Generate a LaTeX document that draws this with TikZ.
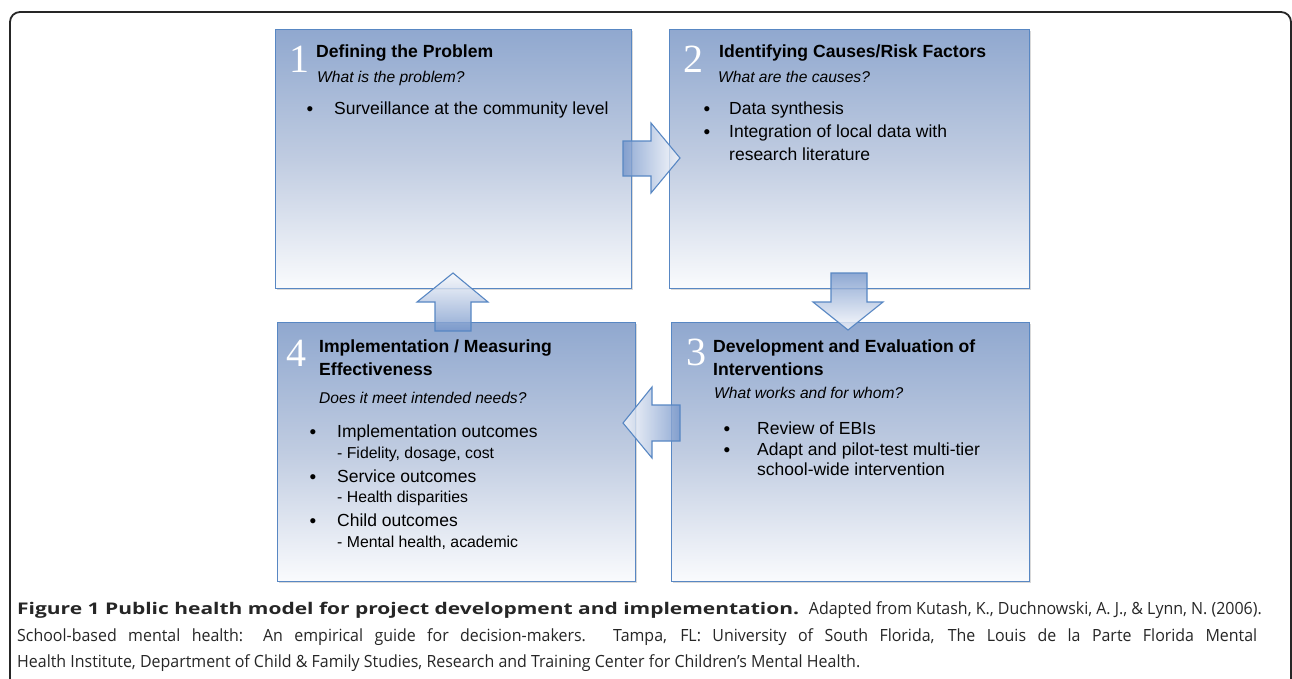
\documentclass[tikz,border=0pt]{standalone}
\usepackage{fontspec}
\setmainfont{Liberation Sans}
\newfontfamily\numfont{Liberation Serif}
\newfontfamily\capfont[FakeStretch=0.95]{Open Sans}
\usetikzlibrary{shadows}
\definecolor{bord}{RGB}{88,135,195}
\definecolor{btop}{RGB}{144,168,207}
\definecolor{bmid}{RGB}{192,204,225}
\definecolor{bbot}{RGB}{250,251,253}
\definecolor{arrblue}{RGB}{118,150,202}
\definecolor{arrwhite}{RGB}{248,249,252}
\tikzset{
  stagebox/.style={draw=bord, line width=1.2pt, top color=btop, bottom color=bbot, middle color=bmid,
    anchor=north west, inner sep=0, minimum height=259pt,
    drop shadow={shadow xshift=1.5pt, shadow yshift=-1.5pt, opacity=0.25, fill=black!60}},
  blockarrow/.style={draw=bord, line width=1.1pt, fill opacity=0.8, line join=miter},
  numtxt/.style={font=\numfont\fontsize{40}{40}\selectfont, text=white, anchor=base west, inner sep=0},
  ttltxt/.style={font=\bfseries\fontsize{17.6}{21}\selectfont, anchor=base west, inner sep=0},
  subtxt/.style={font=\itshape\fontsize{15.6}{18}\selectfont, anchor=base west, inner sep=0},
  bodytxt/.style={font=\fontsize{17.5}{21}\selectfont, anchor=base west, inner sep=0},
  smltxt/.style={font=\fontsize{15.8}{19}\selectfont, anchor=base west, inner sep=0},
  bultxt/.style={font=\fontsize{19}{19}\selectfont, anchor=base, inner sep=0},
  captxt/.style={font=\capfont\fontsize{16.8}{20}\selectfont, anchor=base west, inner sep=0, text=black!85}
}
\begin{document}
\begin{tikzpicture}[x=1pt,y=-1pt]
\useasboundingbox (0,0) rectangle (1292,678);
% outer frame
\draw[line width=1.8pt, black!85, rounded corners=10pt] (10,700) -- (10,12) -- (1291,12) -- (1291,700);

% boxes
\node[stagebox, minimum width=356pt] (b1) at (275,29) {};
\node[stagebox, minimum width=360pt] (b2) at (669,29) {};
\node[stagebox, minimum width=358pt] (b4) at (277,322) {};
\node[stagebox, minimum width=358pt] (b3) at (671,322) {};

% block arrows
\path[blockarrow, left color=arrblue, right color=arrwhite]
  (623,141) -- (651,141) -- (651,123) -- (680,158) coordinate (a12) -- (651,193) -- (651,176) -- (623,176) -- cycle;
\path[blockarrow, top color=arrblue, bottom color=arrwhite]
  (831,273) -- (867,273) -- (867,302) -- (883,302) -- (848,330) coordinate (a23) -- (813,302) -- (831,302) -- cycle;
\path[blockarrow, right color=arrblue, left color=arrwhite]
  (680,405) -- (652,405) -- (652,387) -- (623,423) coordinate (a34) -- (652,458) -- (652,441) -- (680,441) -- cycle;
\path[blockarrow, bottom color=arrblue, top color=arrwhite]
  (435,331) -- (471,331) -- (471,302) -- (488,302) -- (453,273) coordinate (a41) -- (417,302) -- (435,302) -- cycle;

% box 1
\node[numtxt] (n1) at (289,72) {1};
\node[ttltxt] (t1) at (316,57) {Defining the Problem};
\node[subtxt] (s1) at (317,82) {What is the problem?};
\node[bultxt] (d11) at (310,115) {•};
\node[bodytxt] (l11) at (334,114) {Surveillance at the community level};

% box 2
\node[numtxt] (n2) at (683,72) {2};
\node[ttltxt] (t2) at (719,57) {Identifying Causes/Risk Factors};
\node[subtxt] (s2) at (718,82) {What are the causes?};
\node[bultxt] (d21) at (707,115) {•};
\node[bodytxt] (l21) at (729,114) {Data synthesis};
\node[bultxt] (d22) at (707,138) {•};
\node[bodytxt] (l22) at (729,137) {Integration of local data with};
\node[bodytxt] (l23) at (729,160) {research literature};

% box 3
\node[numtxt] (n3) at (686,365) {3};
\node[ttltxt] (t3a) at (713,352) {Development and Evaluation of};
\node[ttltxt] (t3b) at (713,375) {Interventions};
\node[subtxt] (s3) at (714,398) {What works and for whom?};
\node[bultxt] (d31) at (727,435) {•};
\node[bodytxt] (l31) at (757,434) {Review of EBIs};
\node[bultxt] (d32) at (727,456) {•};
\node[bodytxt] (l32) at (757,455) {Adapt and pilot-test multi-tier};
\node[bodytxt] (l33) at (757,475) {school-wide intervention};

% box 4
\node[numtxt] (n4) at (286,366) {4};
\node[ttltxt] (t4a) at (319,352) {Implementation / Measuring};
\node[ttltxt] (t4b) at (319,375) {Effectiveness};
\node[subtxt] (s4) at (319,403) {Does it meet intended needs?};
\node[bultxt] (d41) at (313,438) {•};
\node[bodytxt] (l41) at (337,437) {Implementation outcomes};
\node[smltxt] (m41) at (337,458) {- Fidelity, dosage, cost};
\node[bultxt] (d42) at (313,483) {•};
\node[bodytxt] (l42) at (337,482) {Service outcomes};
\node[smltxt] (m42) at (337,502) {- Health disparities};
\node[bultxt] (d43) at (313,527) {•};
\node[bodytxt] (l43) at (337,526) {Child outcomes};
\node[smltxt] (m43) at (337,547) {- Mental health, academic};

% caption
\node[captxt] (c1a) at (17,614) {\resizebox{782pt}{12.3pt}{\textbf{Figure 1 Public health model for project development and implementation.}}};
\node[captxt, anchor=base east] (c1b) at (1262,614) {Adapted from Kutash, K., Duchnowski, A. J., \& Lynn, N. (2006).};
\node[captxt] (c2) at (17,641) {\makebox[1240pt][s]{School-based mental health: An empirical guide for decision-makers. Tampa, FL: University of South Florida, The Louis de la Parte Florida Mental}};
\node[captxt] (c3) at (17,667) {Health Institute, Department of Child \& Family Studies, Research and Training Center for Children’s Mental Health.};
\end{tikzpicture}
\end{document}
